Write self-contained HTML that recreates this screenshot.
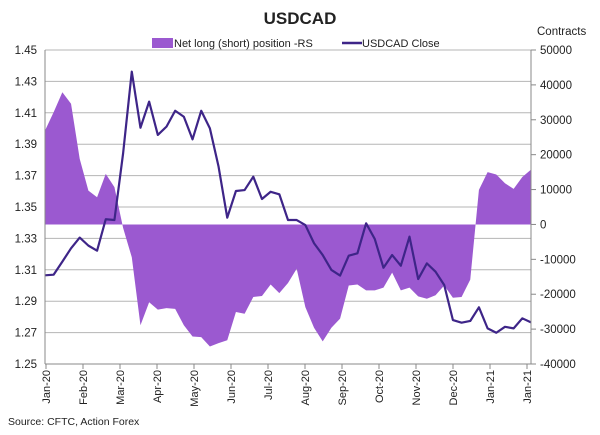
<!DOCTYPE html>
<html><head><meta charset="utf-8"><style>
body{margin:0;background:#fff;font-family:"Liberation Sans",Arial,sans-serif;}
svg text{font-family:"Liberation Sans",Arial,sans-serif;fill:#222;}
</style></head><body>
<svg id="chart" width="600" height="430">
<text x="300" y="24" text-anchor="middle" font-size="17" font-weight="bold">USDCAD</text>
<text x="537" y="35" font-size="11.5">Contracts</text>
<g>
<rect x="152" y="38" width="21" height="10" fill="#9b59d0"/>
<text x="174" y="47" font-size="11">Net long (short) position -RS</text>
<line x1="342" y1="43" x2="362" y2="43" stroke="#3e2588" stroke-width="2.5"/>
<text x="362" y="47" font-size="11">USDCAD Close</text>
</g>
<g id="grid"></g><g id="area"></g><g id="line"></g><g id="axes"></g>
<text x="8" y="425" font-size="10.5">Source: CFTC, Action Forex</text>
</svg>
<script>
const monthLabels=["Jan-20","Feb-20","Mar-20","Apr-20","May-20","Jun-20","Jul-20","Aug-20","Sep-20","Oct-20","Nov-20","Dec-20","Jan-21","Jan-21"];
const leftTicks=[1.25,1.27,1.29,1.31,1.33,1.35,1.37,1.39,1.41,1.43,1.45];
const rightTicks=[-40000,-30000,-20000,-10000,0,10000,20000,30000,40000,50000];
const closeValues=[1.3065,1.3069,1.3152,1.3237,1.3305,1.3254,1.3222,1.3422,1.3417,1.3842,1.4362,1.4005,1.4171,1.3959,1.4012,1.4113,1.4075,1.3931,1.4113,1.4001,1.3757,1.3432,1.3602,1.3608,1.3693,1.3551,1.3597,1.3581,1.3417,1.3417,1.3385,1.3269,1.3194,1.3099,1.3063,1.3190,1.3205,1.3396,1.3296,1.3113,1.3194,1.3126,1.3311,1.3041,1.3141,1.3088,1.3003,1.2780,1.2763,1.2774,1.2861,1.2727,1.2699,1.2737,1.2727,1.2791,1.2765];
const netPosition=[26900,32200,37900,34600,18800,9700,7800,14500,10700,-1000,-9400,-28900,-22300,-24400,-24000,-24200,-28900,-32100,-32300,-35000,-34000,-33200,-25100,-25600,-20800,-20500,-17200,-19700,-16800,-12700,-23700,-29600,-33500,-29600,-27000,-17500,-17200,-18900,-18900,-18100,-13800,-18900,-18100,-20600,-21300,-20300,-17500,-21000,-20800,-15800,9900,15000,14300,11800,10200,13600,15700];
const X0=45,X1=531,Y0=364,Y1=50;
const xi=i=>X0+(X1-X0)*i/(closeValues.length-1);
const yL=v=>Y0-(v-1.25)/(0.2)*(Y0-Y1);
const yR=v=>Y0-(v+40000)/90000*(Y0-Y1);
const NS="http://www.w3.org/2000/svg";
function mk(p,tag,attrs){const e=document.createElementNS(NS,tag);for(const k in attrs)e.setAttribute(k,attrs[k]);document.getElementById(p).appendChild(e);return e;}
leftTicks.forEach(t=>{
 const g=mk('grid','line',{x1:X0,x2:X1,y1:yL(t),y2:yL(t),stroke:'#b5b5b5','stroke-width':1});
 
 
 const tx=mk('axes','text',{x:37,y:yL(t)+4,'text-anchor':'end','font-size':11.5});
 tx.textContent=t.toFixed(2);
 
 
});
rightTicks.forEach(t=>{
 const tk=mk('axes','line',{x1:X1,x2:X1+5,y1:yR(t),y2:yR(t),stroke:'#888'});
 
 
 const tx=mk('axes','text',{x:X1+9,y:yR(t)+4,'font-size':11.5});
 tx.textContent=t;
 
 
});
let d=`M${xi(0)},${yR(0)}`;
netPosition.forEach((v,i)=>{d+=` L${xi(i)},${yR(v)}`;});
d+=` L${xi(netPosition.length-1)},${yR(0)} Z`;
const ar=mk('area','path',{d:d,fill:'#9b59d0'});


const ln=mk('line','polyline',{points:closeValues.map((v,i)=>xi(i)+','+yL(v)).join(' '),fill:'none',stroke:'#3e2588','stroke-width':2.2,'stroke-linejoin':'round'});


const la=mk('axes','line',{x1:X0,x2:X0,y1:Y1,y2:Y0,stroke:'#888'});


const ra=mk('axes','line',{x1:X1,x2:X1,y1:Y1,y2:Y0,stroke:'#888'});


const xa=mk('axes','line',{x1:X0,x2:X1,y1:Y0,y2:Y0,stroke:'#888'});


monthLabels.forEach((m,i)=>{
 const x=i<13?46+37*i:527;
 const tk=mk('axes','line',{x1:x,x2:x,y1:Y0,y2:Y0+5,stroke:'#888'});
 
 
 const tx=mk('axes','text',{x:0,y:0,'text-anchor':'end','font-size':11,transform:`translate(${x+4},${Y0+6}) rotate(-90)`});
 tx.textContent=m;
 
 
});
</script>
</body></html>
